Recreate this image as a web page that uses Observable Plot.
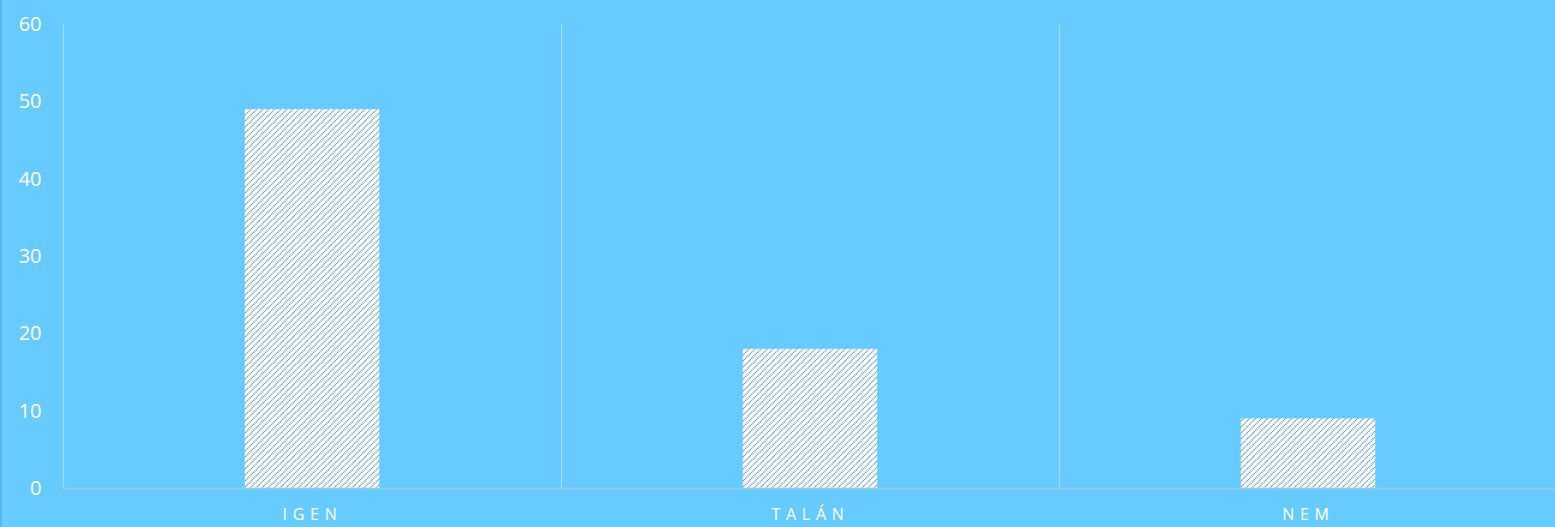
<!DOCTYPE html>
<html>
<head>
<meta charset="utf-8">
<script src="https://cdn.jsdelivr.net/npm/d3@7"></script>
<script src="https://cdn.jsdelivr.net/npm/@observablehq/plot@0.6"></script>
<style>
  html, body { margin: 0; padding: 0; background: #66CCFF; }
  #chart svg { display: block; box-shadow: inset 2px 0 0 #55B5EC; }
  #chart svg g[aria-label="y-axis tick label"] text { font-size: 20px !important; }
  #chart svg g[aria-label="x-axis tick label"] text { font-size: 16px !important; letter-spacing: 5.7px; }
</style>
</head>
<body>
<div id="chart"></div>
<script>
const categories = ["IGEN", "TALÁN", "NEM"];
const values = [49, 18, 9];
const yTicks = [0, 10, 20, 30, 40, 50, 60];

const data = categories.map((c, i) => ({cat: c, value: values[i]}));

const W = 1555, H = 527, mL = 63, mR = -2, mT = 24, mB = 39;
const band = (W - mL - mR) / categories.length;
const barFrac = 0.27;
const inset = band * (1 - barFrac) / 2;

const chart = Plot.plot({
  width: W,
  height: H,
  marginLeft: mL,
  marginRight: mR,
  marginTop: mT,
  marginBottom: mB,
  style: {background: "#66CCFF", color: "white", fontFamily: "'Open Sans', sans-serif"},
  x: {domain: categories, padding: 0, label: null},
  y: {domain: [0, 60], label: null},
  marks: [
    Plot.ruleX(categories, {x: d => d, y1: 0, y2: 60, dx: -band / 2, stroke: "#9ADBFF", strokeWidth: 1.2}),
    Plot.barY(data, {x: "cat", y: "value", fill: "url(#hatch)", insetLeft: inset, insetRight: inset}),
    Plot.ruleY([0], {stroke: "#A2C5E5", strokeWidth: 1.5}),
    Plot.axisY({ticks: yTicks, tickSize: 0, tickPadding: 22, fill: "white", label: null}),
    Plot.axisX({tickSize: 0, tickPadding: 20, fill: "white", label: null})
  ]
});

const svg = d3.select(chart);
const defs = svg.insert("defs", ":first-child");
const pat = defs.append("pattern")
  .attr("id", "hatch")
  .attr("patternUnits", "userSpaceOnUse")
  .attr("width", 6)
  .attr("height", 6);
pat.append("rect").attr("width", 6).attr("height", 6).attr("fill", "white");
pat.append("path")
  .attr("d", "M-1,1 L1,-1 M0,6 L6,0 M5,7 L7,5")
  .attr("stroke", "#5A9BDC")
  .attr("stroke-width", 1.4)
  .attr("stroke-dasharray", "1.1,0.7");

document.getElementById("chart").appendChild(chart);
</script>
</body>
</html>
